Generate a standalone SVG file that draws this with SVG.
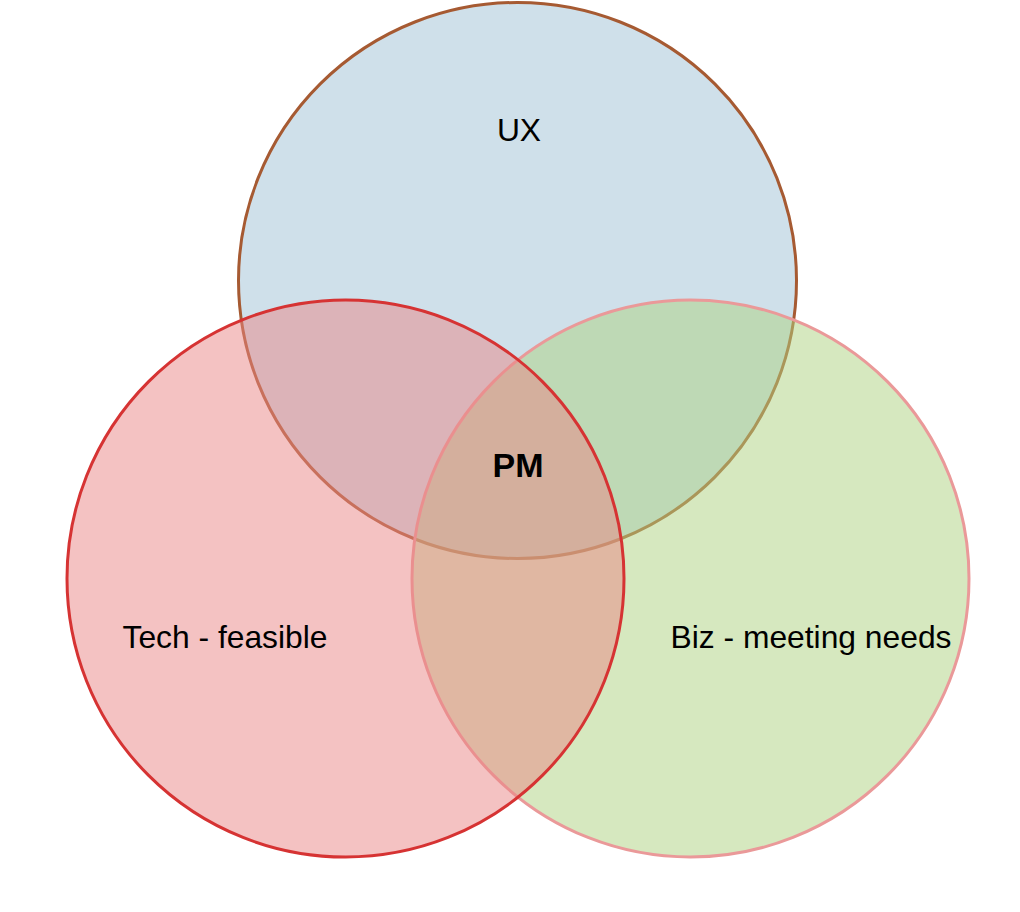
<svg xmlns="http://www.w3.org/2000/svg" width="1020" height="912" viewBox="0 0 1020 912">
<style>
.c{stroke-width:3;fill-opacity:0.5}
.t{font-family:"Liberation Sans",Arial,sans-serif;font-size:31.8px;fill:#000;text-anchor:middle}
.b{font-weight:bold;font-size:34px}
</style>
<rect width="1020" height="912" fill="#fff"/>
<g id="ux"><ellipse class="c" cx="517.5" cy="280.5" rx="279" ry="278" fill="#9fc1d5" stroke="#a65a32"/></g>
<g id="biz"><circle class="c" cx="690.5" cy="578.5" r="278.5" fill="#add17f" stroke="#ea9999"/></g>
<g id="tech"><circle class="c" cx="345.5" cy="578.5" r="278.5" fill="#e98585" stroke="#d63333"/></g>
<g id="labels">
<text class="t" x="519" y="141">UX</text>
<text class="t b" x="518" y="477">PM</text>
<text class="t" x="225" y="648">Tech - feasible</text>
<text class="t" x="811" y="648">Biz - meeting needs</text>
</g>
<g id="connectors"/>
</svg>
